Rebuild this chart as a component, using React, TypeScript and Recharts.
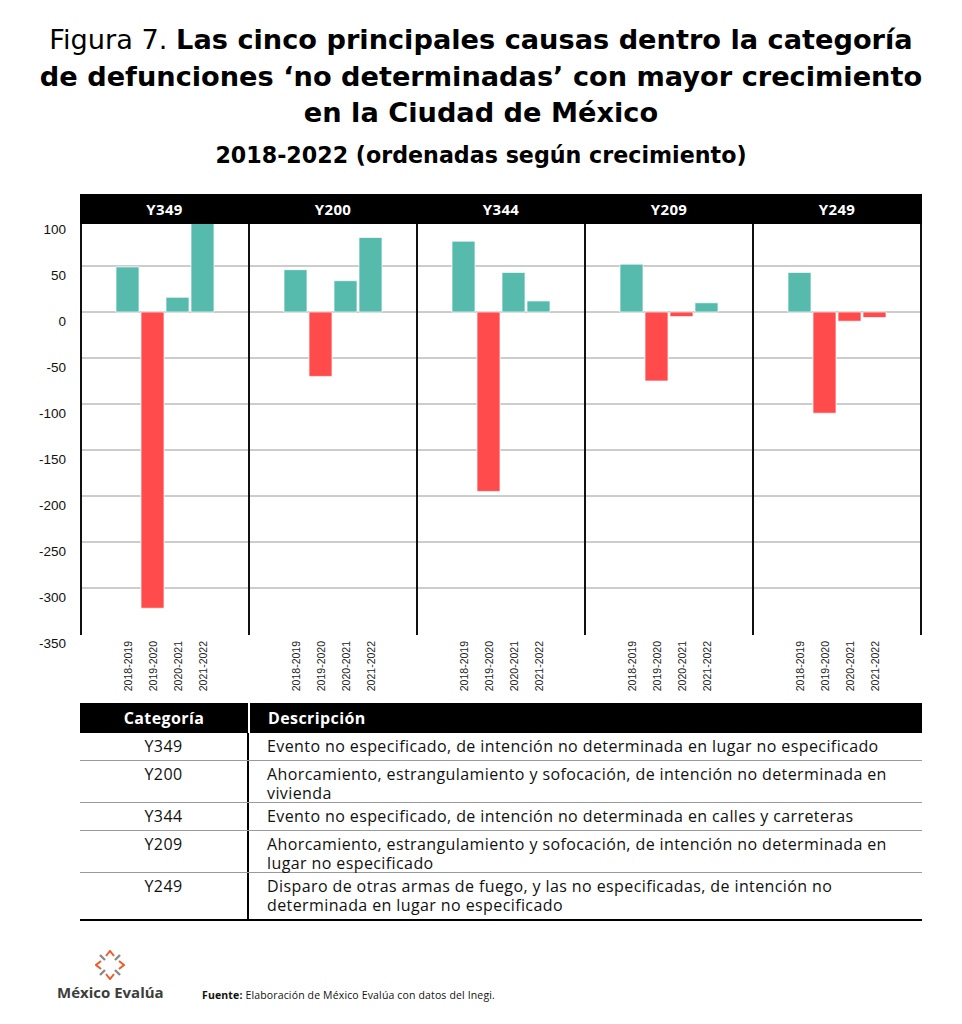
import React from 'react';
import { BarChart, Bar, XAxis, YAxis, CartesianGrid, Cell } from 'recharts';

const categories = ['Y349', 'Y200', 'Y344', 'Y209', 'Y249'];
const periods = ['2018-2019', '2019-2020', '2020-2021', '2021-2022'];

const y349Values = [49, -322, 16, 100];
const y200Values = [46, -70, 34, 81];
const y344Values = [77, -195, 43, 12];
const y209Values = [52, -75, -5, 10];
const y249Values = [43, -110, -10, -6];
const seriesValues = [y349Values, y200Values, y344Values, y209Values, y249Values];

const yTicks = [100, 50, 0, -50, -100, -150, -200, -250, -300, -350];
const gridValues = [50, 0, -50, -100, -150, -200, -250, -300];

const descriptions = [
  'Evento no especificado, de intención no determinada en lugar no especificado',
  'Ahorcamiento, estrangulamiento y sofocación, de intención no determinada en vivienda',
  'Evento no especificado, de intención no determinada en calles y carreteras',
  'Ahorcamiento, estrangulamiento y sofocación, de intención no determinada en lugar no especificado',
  'Disparo de otras armas de fuego, y las no especificadas, de intención no determinada en lugar no especificado',
];

const TEAL = '#56BAAD';
const RED = '#FF4B4B';
const PANEL_W = 168;
const AXIS_W = 81;
const CHART_TOP = 220;
const CHART_H = 480;
const X_AXIS_H = 66;
const HEAD_FONT = '"DejaVu Sans", Verdana, sans-serif';
const TEXT_FONT = '"Open Sans", Roboto, sans-serif';
const AXIS_FONT = '"Liberation Sans", Arial, sans-serif';
const rowHeights = [28, 42, 28, 42, 48];

const PeriodTick = (props: any) => {
  const { x, y, payload } = props;
  return (
    <text
      transform={`translate(${x + 4},${y + 5}) rotate(-90)`}
      textAnchor="end"
      fontSize={10.5}
      fontFamily={AXIS_FONT}
      fill="#222"
    >
      {payload.value}
    </text>
  );
};

const ValueTick = (props: any) => {
  const { x, y, payload } = props;
  return (
    <text x={x} y={y + 14} textAnchor="end" fontSize={13.5} fontFamily={AXIS_FONT} fill="#111">
      {payload.value}
    </text>
  );
};

const Panel = ({ values, withAxis }: { values: number[]; withAxis: boolean }) => {
  const data = periods.map((p, i) => ({ period: p, value: values[i] }));
  return (
    <BarChart
      width={withAxis ? AXIS_W + PANEL_W : PANEL_W}
      height={CHART_H}
      data={data}
      margin={{ top: 0, right: 0, bottom: 0, left: 0 }}
    >
      <CartesianGrid vertical={false} stroke="#9a9a9a" horizontalValues={gridValues} />
      <XAxis
        dataKey="period"
        axisLine={false}
        tickLine={false}
        tickSize={0}
        height={X_AXIS_H}
        interval={0}
        padding={{ left: 34, right: 34 }}
        tick={<PeriodTick />}
      />
      <YAxis
        domain={[-350, 100]}
        ticks={yTicks}
        interval={0}
        allowDataOverflow
        hide={!withAxis}
        width={AXIS_W}
        axisLine={false}
        tickLine={false}
        tickSize={0}
        tickMargin={15}
        tick={<ValueTick />}
      />
      <Bar dataKey="value" barSize={23} isAnimationActive={false} stroke="rgba(255,255,255,0.7)" strokeWidth={1}>
        {data.map((d, i) => (
          <Cell key={i} fill={d.value >= 0 ? TEAL : RED} />
        ))}
      </Bar>
    </BarChart>
  );
};

const Logo = () => (
  <svg width={30} height={30} viewBox="0 0 30 30" style={{ position: 'absolute', left: 95, top: 950 }}>
    <g fill="none" strokeWidth={2} strokeLinejoin="miter">
      <polyline points="11,6 15,1 19,6" stroke="#F05A28" />
      <polyline points="24,11 29,15 24,19" stroke="#F05A28" />
      <polyline points="19,24 15,29 11,24" stroke="#F05A28" />
      <polyline points="6,19 1,15 6,11" stroke="#F05A28" />
      <line x1="5" y1="5" x2="10" y2="10" stroke="#8a8a8a" strokeWidth={2.4} />
      <line x1="25" y1="5" x2="20" y2="10" stroke="#8a8a8a" strokeWidth={2.4} />
      <line x1="25" y1="25" x2="20" y2="20" stroke="#8a8a8a" strokeWidth={2.4} />
      <line x1="5" y1="25" x2="10" y2="20" stroke="#8a8a8a" strokeWidth={2.4} />
    </g>
  </svg>
);

export default function App() {
  const plotLeft = AXIS_W;
  const plotBottom = CHART_TOP + CHART_H - X_AXIS_H;
  return (
    <div style={{ position: 'absolute', left: 0, top: 0, width: 962, height: 1024, background: '#fff', overflow: 'hidden' }}>
      {/* title */}
      <div
        style={{
          position: 'absolute',
          top: 22,
          left: 0,
          width: 962,
          textAlign: 'center',
          fontFamily: HEAD_FONT,
          fontSize: 27.2,
          lineHeight: '36.5px',
          color: '#000',
        }}
      >
        <div>
          <span style={{ fontWeight: 400 }}>Figura 7. </span>
          <b>Las cinco principales causas dentro la categoría</b>
        </div>
        <div style={{ fontWeight: 700 }}>de defunciones ‘no determinadas’ con mayor crecimiento</div>
        <div style={{ fontWeight: 700 }}>en la Ciudad de México</div>
      </div>
      <div
        style={{
          position: 'absolute',
          top: 140,
          left: 0,
          width: 962,
          textAlign: 'center',
          fontFamily: HEAD_FONT,
          fontWeight: 700,
          fontSize: 22.2,
          lineHeight: '30px',
        }}
      >
        2018-2022 (ordenadas según crecimiento)
      </div>

      {/* charts */}
      <div style={{ position: 'absolute', top: CHART_TOP, left: 0, display: 'flex' }}>
        {seriesValues.map((v, i) => (
          <Panel key={categories[i]} values={v} withAxis={i === 0} />
        ))}
      </div>

      {/* panel dividers */}
      {[0, ...categories.map((_, i) => i + 1)].map((k) => (
        <div
          key={k}
          style={{
            position: 'absolute',
            left: plotLeft + PANEL_W * k - 1,
            top: 224,
            width: 2,
            height: plotBottom - 224 + 1,
            background: '#111',
          }}
        />
      ))}

      {/* panel header */}
      <div style={{ position: 'absolute', top: 194, left: 80, width: PANEL_W * 5 + 2, height: 30, background: '#000', display: 'flex' }}>
        {categories.map((c, i) => (
          <div
            key={c}
            style={{
              width: i === 0 ? PANEL_W + 1 : PANEL_W,
              textAlign: 'center',
              color: '#fff',
              fontFamily: TEXT_FONT,
              fontWeight: 700,
              fontSize: 15,
              letterSpacing: 0.4,
              lineHeight: '31px',
            }}
          >
            {c}
          </div>
        ))}
      </div>

      {/* table */}
      <div
        style={{
          position: 'absolute',
          top: 703,
          left: 80,
          width: 842,
          fontFamily: TEXT_FONT,
          fontSize: 16,
          letterSpacing: 0.4,
          color: '#111',
        }}
      >
        <div style={{ display: 'flex', height: 30, background: '#000', color: '#fff', fontWeight: 700, lineHeight: '30px' }}>
          <div style={{ width: 168, textAlign: 'center', borderRight: '2px solid #fff' }}>Categoría</div>
          <div style={{ paddingLeft: 18 }}>Descripción</div>
        </div>
        {categories.map((c, i) => (
          <div
            key={c}
            style={{
              display: 'flex',
              height: rowHeights[i],
              borderBottom: i === categories.length - 1 ? '2.5px solid #000' : '1px solid #9a9a9a',
              boxSizing: 'border-box',
              lineHeight: '19px',
            }}
          >
            <div style={{ width: 167, textAlign: 'center', paddingTop: 4, borderRight: '2px solid #000' }}>{c}</div>
            <div style={{ paddingLeft: 18, paddingTop: 4, width: 630 }}>{descriptions[i]}</div>
          </div>
        ))}
      </div>

      {/* footer */}
      <Logo />
      <div
        style={{
          position: 'absolute',
          left: 57,
          top: 982,
          fontFamily: TEXT_FONT,
          fontWeight: 700,
          fontSize: 15,
          color: '#3d3d3d',
        }}
      >
        México Evalúa
      </div>
      <div
        style={{
          position: 'absolute',
          left: 202,
          top: 988,
          fontFamily: TEXT_FONT,
          fontSize: 10.5,
          letterSpacing: 0.15,
          color: '#111',
        }}
      >
        <b>Fuente:</b> Elaboración de México Evalúa con datos del Inegi.
      </div>
    </div>
  );
}
